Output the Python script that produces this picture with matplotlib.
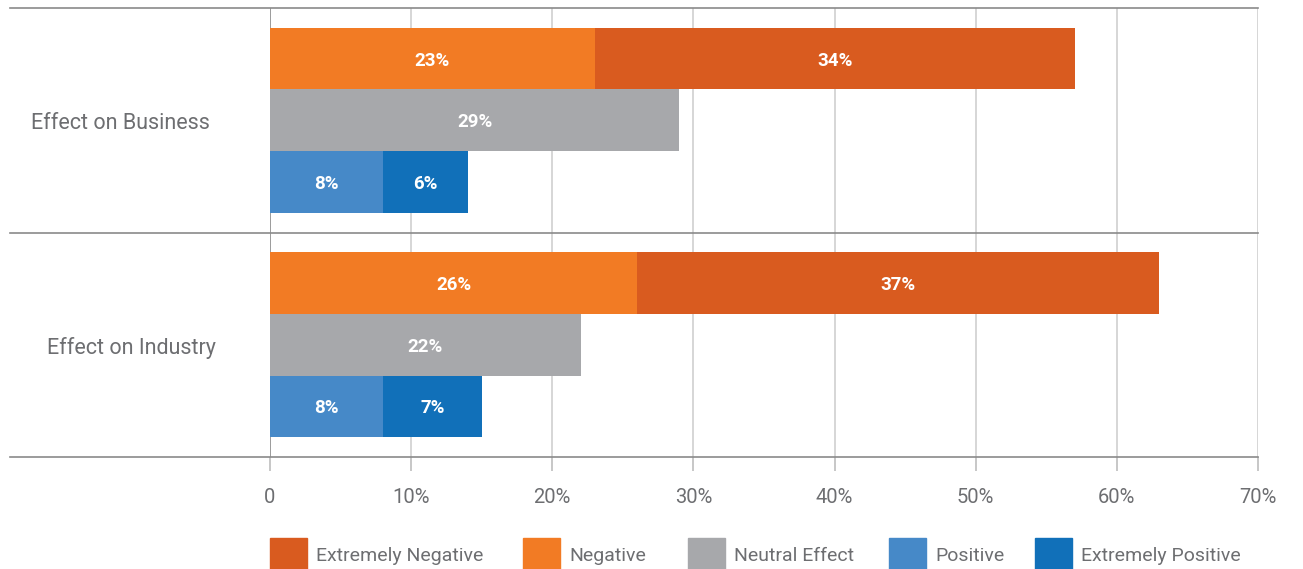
import matplotlib.pyplot as plt
from matplotlib.patches import Rectangle
import numpy as np

plt.rcParams['font.family'] = ['Roboto', 'DejaVu Sans']

categories = ["Effect on Business", "Effect on Industry"]
extremely_negative = [34, 37]
negative = [23, 26]
neutral = [29, 22]
positive = [8, 8]
extremely_positive = [6, 7]

tick_values = [0, 10, 20, 30, 40, 50, 60, 70]
tick_labels = ["0", "10%", "20%", "30%", "40%", "50%", "60%", "70%"]

legend_labels = ["Extremely Negative", "Negative", "Neutral Effect", "Positive", "Extremely Positive"]

c_xneg = "#D95B1F"
c_neg = "#F27B24"
c_neu = "#A7A8AB"
c_pos = "#4689C8"
c_xpos = "#1170B9"
legend_colors = [c_xneg, c_neg, c_neu, c_pos, c_xpos]
grey_text = "#6D6E71"

W, H = 1303, 569
fig = plt.figure(figsize=(W / 100, H / 100), dpi=100)
ax = fig.add_axes([270 / W, 1 - 457 / H, (1258 - 270) / W, (457 - 8) / H])

ypos = np.array([1, 0])
h = 0.274

def seg(y, left, width, color):
    ax.barh(y, width, left=left, height=h, color=color, zorder=3)
    for yy, l, w in zip(y, left, width):
        ax.text(l + w / 2, yy - 0.008, f"{w}%", ha="center", va="center",
                color="white", fontsize=13.5, fontweight="bold", zorder=4)

zeros = np.zeros(2)
seg(ypos + h, zeros, np.array(negative), c_neg)
seg(ypos + h, np.array(negative), np.array(extremely_negative), c_xneg)
seg(ypos, zeros, np.array(neutral), c_neu)
seg(ypos - h, zeros, np.array(positive), c_pos)
seg(ypos - h, np.array(positive), np.array(extremely_positive), c_xpos)

ax.set_xlim(0, 70)
ax.set_ylim(-0.5, 1.5)
for s in ax.spines.values():
    s.set_visible(False)

# vertical gridlines
for v in tick_values:
    col = "#8A8A8A" if v == 0 else "#CFCFCF"
    ax.axvline(v, color=col, lw=1.2, zorder=1)

# horizontal separators running into the label area
x_left = (10 - 270) / (1258 - 270) * 70
for yl in [1.5, 0.5, -0.5]:
    ax.plot([x_left, 70], [yl, yl], color="#8A8A8A", lw=1.2, clip_on=False, zorder=2)

ax.set_xticks(tick_values)
ax.set_xticklabels(tick_labels, fontsize=14.5, color=grey_text)
ax.tick_params(axis="x", length=10, width=1.2, color="#BDBDBD", pad=12)
ax.set_yticks([])

# category labels
label_px = [31, 47]
for cat, y, px in zip(categories, ypos, label_px):
    ax.text((px - 270) / (1258 - 270) * 70, y - 0.016, cat, ha="left", va="center",
            fontsize=15.5, color=grey_text, clip_on=False)

# legend along the bottom
patch_x = [270, 523, 688, 889, 1035]
for lab, col, px in zip(legend_labels, legend_colors, patch_x):
    fig.patches.append(Rectangle((px / W, 0), 37 / W, 31 / H, transform=fig.transFigure,
                                 color=col, figure=fig))
    fig.text((px + 46) / W, 1 - 556 / H, lab, ha="left", va="center",
             fontsize=14, color=grey_text)

fig.savefig("out.png", dpi=100)
